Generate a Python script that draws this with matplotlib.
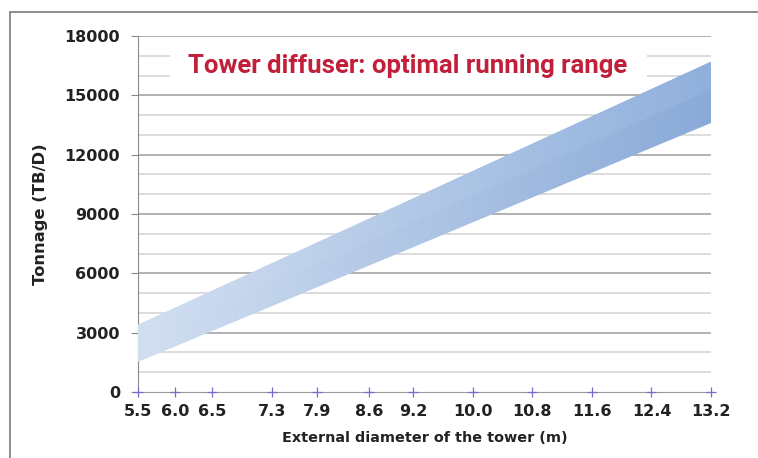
import numpy as np
import matplotlib.pyplot as plt
from matplotlib.colors import LinearSegmentedColormap
from matplotlib.patches import Rectangle

# tower diameter (m) and tonnage range at the two ends of the chart
x_ticks = [5.5, 6.0, 6.5, 7.3, 7.9, 8.6, 9.2, 10.0, 10.8, 11.6, 12.4, 13.2]
band_x = [5.5, 13.2]
band_low = [1520, 13600]
band_mid = [2450, 15270]
band_high = [3400, 16700]
y_major = [0, 3000, 6000, 9000, 12000, 15000, 18000]

title = "Tower diffuser: optimal running range"
xlabel = "External diameter of the tower (m)"
ylabel = "Tonnage (TB/D)"

fig = plt.figure(figsize=(7.58, 4.58), dpi=100)
ax = fig.add_axes([138 / 758, 1 - 392 / 458, 573 / 758, 356 / 458])

# outer frame of the figure (open at right and bottom like the crop)
fig.patches.append(Rectangle((10 / 758, -0.05), 1.2, 1 - 12 / 458 + 0.05,
                             transform=fig.transFigure, fill=False,
                             edgecolor="#7a7a7a", linewidth=1.2))

ax.set_xlim(band_x[0], band_x[-1])
ax.set_ylim(0, 18000)

# gridlines: darker every 3000, light every 1000
for v in range(1000, 18001, 1000):
    major = v % 3000 == 0
    ax.axhline(v, color="#9c9c9c" if major else "#d2d2d2", lw=1.1, zorder=1)

# white box behind the title hides the grid there
ax.add_patch(Rectangle((0.056, 0.854), 0.832, 0.125, transform=ax.transAxes,
                       facecolor="white", edgecolor="none", zorder=2))

# band with left-to-right gradient: whole band first, then upper half on top
cmap_lo = LinearSegmentedColormap.from_list("lo", ["#d2dff1", "#8aaad8"])
cmap_hi = LinearSegmentedColormap.from_list("hi", ["#d2dff1", "#90b0dc"])
grad = np.linspace(0, 1, 256).reshape(1, -1)
for lo, hi, cmap, z in [(band_low, band_high, cmap_lo, 3),
                        (band_mid, band_high, cmap_hi, 3.1)]:
    poly = ax.fill_between(band_x, lo, hi, color="none", lw=0)
    im = ax.imshow(grad, cmap=cmap, aspect="auto", zorder=z,
                   extent=[band_x[0], band_x[-1], 0, 18000])
    im.set_clip_path(poly.get_paths()[0], transform=ax.transData)
ax.set_xlim(band_x[0], band_x[-1])
ax.set_ylim(0, 18000)

ax.text(0.471, 0.916, title, transform=ax.transAxes, ha="center", va="center",
        fontsize=18.5, fontweight="bold", color="#c11f3a",
        family=["Roboto", "DejaVu Sans"], zorder=4)

# spines
for s in ["top", "right"]:
    ax.spines[s].set_visible(False)
ax.spines["left"].set_color("#8a8a8a")
ax.spines["bottom"].set_color("#9a9a9a")
ax.spines["bottom"].set_zorder(4)

ax.set_yticks(y_major)
ax.set_yticklabels([str(v) for v in y_major], fontsize=11.5, fontweight="bold",
                   color="#222222")
ax.tick_params(axis="y", length=5, color="#8a8a8a", pad=8)

ax.set_xticks(x_ticks)
ax.set_xticklabels([f"{v:.1f}" for v in x_ticks], fontsize=11.5,
                   fontweight="bold", color="#222222")
ax.tick_params(axis="x", length=0, pad=9)
ax.plot(x_ticks, [0] * len(x_ticks), ls="none", marker="+", ms=7, mew=0.9,
        color="#7f68c8", clip_on=False, zorder=5)

ax.set_xlabel(xlabel, fontsize=10.4, fontweight="bold", color="#222222")
ax.xaxis.set_label_coords(0.5, -39 / 356)
ax.set_ylabel(ylabel, fontsize=11.8, fontweight="bold", color="#222222")
ax.yaxis.set_label_coords(-90 / 573, 0.5)

fig.savefig("out.png", dpi=100)
